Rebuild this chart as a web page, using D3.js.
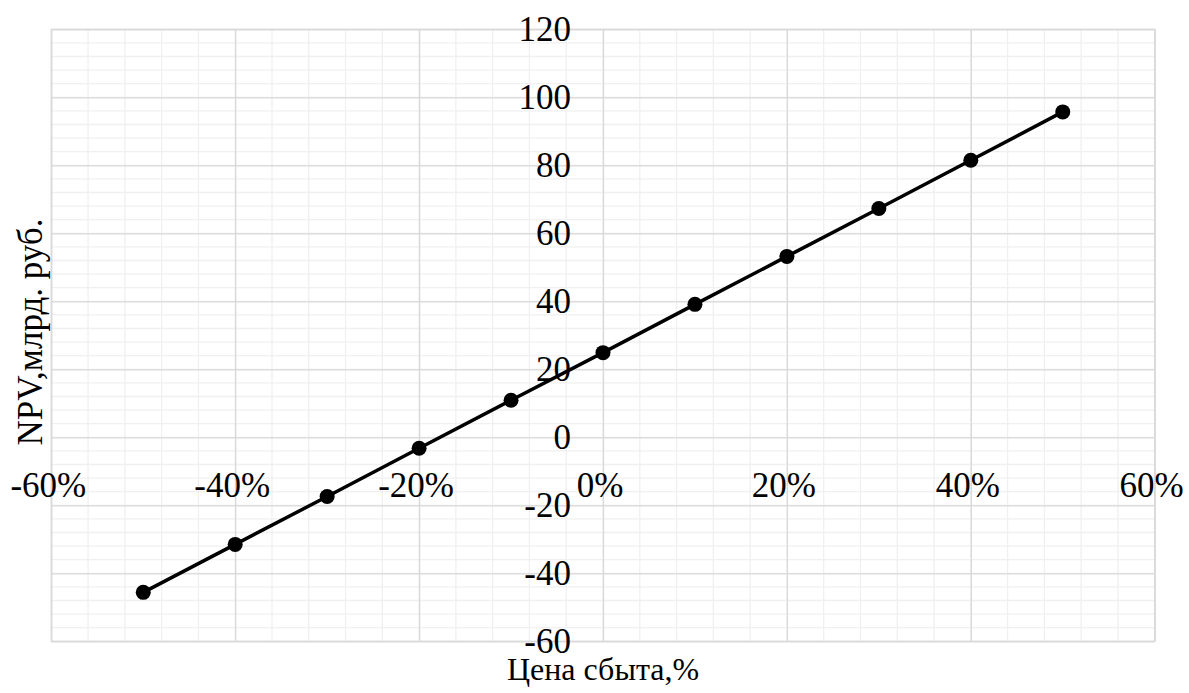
<!DOCTYPE html>
<html>
<head>
<meta charset="utf-8">
<script src="https://cdn.jsdelivr.net/npm/d3@7"></script>
<style>
  body { margin: 0; background: #fff; }
  text { font-family: "Liberation Serif", "DejaVu Serif", serif; fill: #000; }
</style>
</head>
<body>
<svg></svg>
<script>
var width = 1189;
var height = 693;

// price change, % and NPV, bn rub
var priceChange = [-50, -40, -30, -20, -10, 0, 10, 20, 30, 40, 50];
var npv = [-45.6, -31.5, -17.4, -3.2, 10.9, 24.9, 39.1, 53.2, 67.3, 81.5, 95.7];
var xTicks = [-60, -40, -20, 0, 20, 40, 60];
var yTicks = [-60, -40, -20, 0, 20, 40, 60, 80, 100, 120];
var xLabel = "Цена сбыта,%";
var yLabel = "NPV,млрд. руб.";

var data = priceChange.map((p, i) => ({x: p, y: npv[i]}));

// plot area edges (window.top is reserved, so prefix them)
var plotLeft = 51.3, plotRight = 1154.7, plotTop = 29.3, plotBottom = 641.3;

var xScale = d3.scaleLinear().domain([-60, 60]).range([plotLeft, plotRight]);
var yScale = d3.scaleLinear().domain([-60, 120]).range([plotBottom, plotTop]);

var svg = d3.select("svg")
    .attr("width", width)
    .attr("height", height);

// minor grid
svg.append("g")
    .selectAll("line")
    .data(d3.range(-60, 60.1, 4))
    .enter().append("line")
    .attr("x1", d => xScale(d)).attr("x2", d => xScale(d))
    .attr("y1", plotTop).attr("y2", plotBottom)
    .attr("stroke", "#f0f0f0").attr("stroke-width", 1.3);

svg.append("g")
    .selectAll("line")
    .data(d3.range(-60, 120.1, 4))
    .enter().append("line")
    .attr("x1", plotLeft).attr("x2", plotRight)
    .attr("y1", d => yScale(d)).attr("y2", d => yScale(d))
    .attr("stroke", "#f0f0f0").attr("stroke-width", 1.3);

// major grid
var xAxis = d3.axisBottom(xScale).tickValues(xTicks).tickSize(-(plotBottom - plotTop)).tickFormat("");
var yAxis = d3.axisLeft(yScale).tickValues(yTicks).tickSize(-(plotRight - plotLeft)).tickFormat("");

svg.append("g")
    .attr("transform", "translate(0," + plotBottom + ")")
    .call(xAxis)
    .call(g => g.select(".domain").remove())
    .call(g => g.selectAll("line").attr("stroke", "#d9d9d9").attr("stroke-width", 1.3));

svg.append("g")
    .attr("transform", "translate(" + plotLeft + ",0)")
    .call(yAxis)
    .call(g => g.select(".domain").remove())
    .call(g => g.selectAll("line").attr("stroke", "#d9d9d9").attr("stroke-width", 1.3));

// plot border
svg.append("rect")
    .attr("x", plotLeft).attr("y", plotTop)
    .attr("width", plotRight - plotLeft).attr("height", plotBottom - plotTop)
    .attr("fill", "none").attr("stroke", "#d9d9d9").attr("stroke-width", 1.3);

// tick labels
svg.append("g")
    .selectAll("text")
    .data(yTicks)
    .enter().append("text")
    .attr("x", xScale(0) - 32)
    .attr("y", d => yScale(d))
    .attr("dy", "0.34em")
    .attr("text-anchor", "end")
    .style("font-size", "35px")
    .text(d => d);

svg.append("g")
    .selectAll("text")
    .data(xTicks)
    .enter().append("text")
    .attr("x", d => xScale(d) - 3)
    .attr("y", yScale(0) + 60)
    .attr("text-anchor", "middle")
    .style("font-size", "35px")
    .text(d => d + "%");

// line and markers
var line = d3.line().x(d => xScale(d.x)).y(d => yScale(d.y));

svg.append("path")
    .datum(data)
    .attr("d", line)
    .attr("fill", "none")
    .attr("stroke", "#000")
    .attr("stroke-width", 3.5);

svg.selectAll("circle")
    .data(data)
    .enter().append("circle")
    .attr("cx", d => xScale(d.x))
    .attr("cy", d => yScale(d.y))
    .attr("r", 7.5)
    .attr("fill", "#000");

// axis titles
svg.append("text")
    .attr("x", xScale(0))
    .attr("y", 680)
    .attr("text-anchor", "middle")
    .style("font-size", "32px")
    .text(xLabel);

svg.append("text")
    .attr("transform", "translate(42,332) rotate(-90)")
    .attr("text-anchor", "middle")
    .style("font-size", "35px")
    .text(yLabel);
</script>
</body>
</html>
